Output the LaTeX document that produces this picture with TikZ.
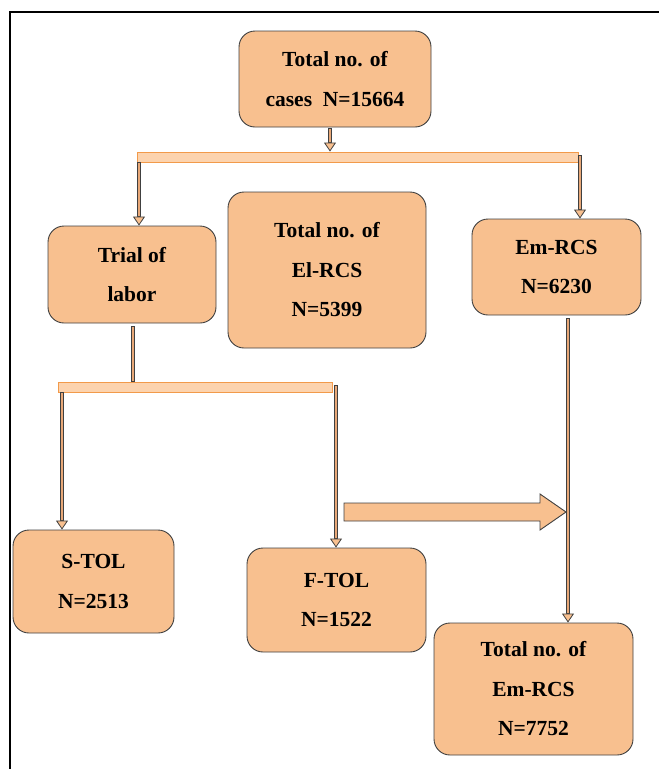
\documentclass[tikz,border=0pt]{standalone}
\usepackage{fontspec}
\setmainfont{Liberation Serif}
\usetikzlibrary{arrows.meta}
\definecolor{peach}{HTML}{F8C08F}
\definecolor{barfill}{HTML}{FCD3AE}
\definecolor{barline}{HTML}{F29A4A}
\definecolor{coreline}{HTML}{E8A878}
\tikzset{
  box/.style={draw=black!75, line width=0.9pt, fill=peach, rounded corners=16pt,
    inner sep=0pt, align=center, font=\bfseries\fontsize{21.5}{39.5}\selectfont},
  bar/.style={draw=barline, fill=barfill, line width=0.9pt, inner sep=0pt,
    minimum height=10pt},
  conn/.style={draw=black!75, line width=4.4pt,
    -{Triangle[width=12pt,length=9pt,fill=peach,line width=0.8pt]}},
  connline/.style={draw=black!75, line width=4.4pt},
  conncore/.style={draw=coreline, line width=2.6pt},
  fatarrow/.style={draw=black!75, fill=peach, line width=0.9pt},
  frame/.style={draw=black, line width=2pt}
}
\newcommand\dblarrow[2]{%
  \draw[conn] #1 -- #2;
  \draw[conncore, shorten <=0.8pt, shorten >=9.6pt] #1 -- #2;}
\newcommand\dblline[2]{%
  \draw[connline] #1 -- #2;
  \draw[conncore, shorten <=0.8pt, shorten >=0.8pt] #1 -- #2;}
\begin{document}
\begin{tikzpicture}[x=1pt,y=-1pt]
\useasboundingbox (0,0) rectangle (659,769);
\draw[frame] (10,769) -- (10,12) -- (659,12);

% nodes
\node[box, minimum width=192pt, minimum height=96pt] (total) at (335,79) {Total no. of\\cases\ \ N=15664};
\node[bar, minimum width=441pt] (bar1) at (357.5,157) {};
\node[box, minimum width=168pt, minimum height=97pt] (trial) at (132,274.5) {Trial of\\labor};
\node[box, minimum width=198pt, minimum height=156pt] (elrcs) at (327,270) {Total no. of\\El-RCS\\N=5399};
\node[box, minimum width=169pt, minimum height=96pt] (emrcs) at (556.5,267) {Em-RCS\\N=6230};
\node[bar, minimum width=274pt] (bar2) at (195,387) {};
\node[box, minimum width=161pt, minimum height=103pt] (stol) at (93.5,581.5) {S-TOL\\N=2513};
\node[box, minimum width=179pt, minimum height=104pt] (ftol) at (336.5,600) {F-TOL\\N=1522};
\node[box, minimum width=199pt, minimum height=132pt] (totem) at (533.5,689) {Total no. of\\Em-RCS\\N=7752};

% helper coordinates
\coordinate (a1) at (330,128);
\coordinate (a2) at (139,162);
\coordinate (a3) at (580,155);
\coordinate (l1) at (133,326);
\coordinate (a4) at (62,392);
\coordinate (a5) at (336,385);
\coordinate (a6) at (568,318);

% connectors
\dblarrow{(a1)}{(a1 |- bar1.north)}
\dblarrow{(a2)}{(a2 |- trial.north)}
\dblarrow{(a3)}{(a3 |- emrcs.north)}
\dblline{(l1)}{(l1 |- bar2.north)}
\dblarrow{(a4)}{(a4 |- stol.north)}
\dblarrow{(a5)}{(a5 |- ftol.north)}
\dblarrow{(a6)}{(a6 |- totem.north)}

% fat arrow
\draw[fatarrow] (344,503) -- (540,503) -- (540,494) -- (566,512) -- (540,530)
  -- (540,521) -- (344,521) -- cycle;
\end{tikzpicture}
\end{document}
